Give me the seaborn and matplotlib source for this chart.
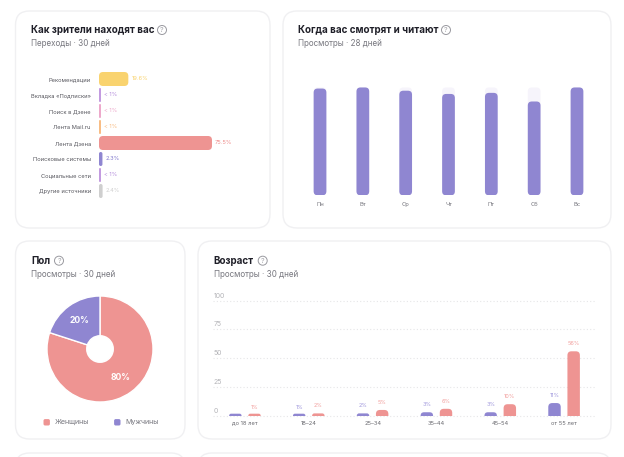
# coding: utf-8
import matplotlib
matplotlib.use('Agg')
from matplotlib import pyplot as plt
from matplotlib.patches import FancyBboxPatch, Circle
from matplotlib.transforms import IdentityTransform
import pandas as pd
import seaborn as sns

# как зрители находят вас
source_names = ['Рекомендации', 'Вкладка «Подписки»', 'Поиск в Дзене', 'Лента Mail.ru',
                'Лента Дзена', 'Поисковые системы', 'Социальные сети', 'Другие источники']
source_values = [19.6, 0.9, 0.9, 0.9, 75.5, 2.3, 0.9, 2.4]
source_labels = ['19.6%', '< 1%', '< 1%', '< 1%', '75.5%', '2.3%', '< 1%', '2.4%']
source_colors = ['#f9d36f', '#c39be0', '#eda9cb', '#f8bd85', '#ee9492', '#8f86d1', '#c39be0', '#cfcfcf']
source_text_colors = ['#f9d36f', '#b58fdc', '#eda9cb', '#f8bd85', '#ee8b8a', '#7f76cc', '#b58fdc', '#cfcfcf']

# когда смотрят
days = ['Пн', 'Вт', 'Ср', 'Чт', 'Пт', 'Сб', 'Вс']
day_values = [99, 100, 97, 94, 95, 87, 100]
day_max = [100, 100, 100, 100, 100, 100, 100]

# пол
gender_names = ['Женщины', 'Мужчины']
gender_values = [80, 20]

# возраст
age_groups = ['до 18 лет', '18–24', '25–34', '35–44', '45–54', 'от 55 лет']
age_men = [1, 1, 2, 3, 3, 11]
age_women = [1, 2, 5, 6, 10, 56]
age_men_labels = ['', '1%', '2%', '3%', '3%', '11%']
age_women_labels = ['1%', '2%', '5%', '6%', '10%', '56%']
age_ticks = [0, 25, 50, 75, 100]

RED = '#ee9492'
PURPLE = '#8f86d1'
W, H = 624, 457

sns.set_style('white')
plt.rcParams['font.family'] = ['Inter', 'DejaVu Sans']
plt.rcParams['axes.facecolor'] = 'none'

fig = plt.figure(figsize=(W / 100, H / 100), dpi=100)
bg = fig.add_axes([0, 0, 1, 1])
bg.set_xlim(0, W)
bg.set_ylim(H, 0)
bg.axis('off')


def px_axes(x0, y0, x1, y1):
    a = fig.add_axes([x0 / W, 1 - y1 / H, (x1 - x0) / W, (y1 - y0) / H])
    sns.despine(ax=a, left=True, bottom=True)
    return a


def card(x0, y0, x1, y1):
    bg.add_patch(FancyBboxPatch((x0, y0), x1 - x0, y1 - y0, boxstyle='round,pad=0,rounding_size=14',
                                fc='white', ec='#f0f0f2', lw=1))


def head(x, y, title, sub, qx):
    bg.text(x, y, title, fontsize=7.05, fontweight='bold', color='#1f1f28', va='center')
    bg.text(x, y + 14, sub, fontsize=5.8, color='#77777f', va='center')
    bg.add_patch(Circle((qx, y), 4.5, fc='none', ec='#9a9aa0', lw=0.7))
    bg.text(qx, y, '?', fontsize=5, color='#9a9aa0', ha='center', va='center')


# скругляем бары, которые нарисовал seaborn
def round_bars(ax, radius, min_w=0, min_h=0, flat_bottom=False):
    bars = list(ax.patches)
    ax.figure.canvas.draw()
    for bar in bars:
        box = bar.get_window_extent()
        x0, y0 = box.x0, box.y0
        w, h = max(box.width, min_w), max(box.height, min_h)
        r = min(radius, w / 2, h) if flat_bottom else min(radius, w / 2, h / 2)
        if flat_bottom:
            y0 -= r
            h += r
        new = FancyBboxPatch((x0, y0), w, h, boxstyle='round,pad=0,rounding_size=%f' % r,
                             fc=bar.get_facecolor(), ec='none', transform=IdentityTransform(),
                             zorder=bar.get_zorder())
        ax.add_artist(new)
        bar.remove()


card(15.5, 11, 270, 228)
card(283, 11, 611, 228)
card(15.5, 241, 185, 439)
card(198, 241, 611, 439)
card(15.5, 453, 185, 520)
card(198, 453, 611, 520)

head(31, 30, 'Как зрители находят вас', 'Переходы · 30 дней', 162)
head(298.5, 30, 'Когда вас смотрят и читают', 'Просмотры · 28 дней', 446)
head(31, 260.7, 'Пол', 'Просмотры · 30 дней', 59)
head(213.5, 260.7, 'Возраст', 'Просмотры · 30 дней', 262.7)

# первый график
ax1 = px_axes(99, 71, 250, 199)
sns.barplot(x=source_values, y=source_names, hue=source_names, palette=source_colors,
            legend=False, width=0.875, saturation=1, ax=ax1, orient='h')
ax1.set_xlim(0, 100.9)
ax1.set_ylim(7.5, -0.5)
ax1.set(xlabel='', ylabel='', xticks=[])
ax1.tick_params(axis='y', length=0, pad=5.8, labelsize=4.1, labelcolor='#55555c')
round_bars(ax1, 4, min_w=2)
for i in range(len(source_values)):
    ax1.annotate(source_labels[i], (max(source_values[i], 1.3), i), xytext=(3, 0), textcoords='offset pixels',
                 fontsize=4.1, color=source_text_colors[i], va='center', annotation_clip=False)

# второй график
ax2 = px_axes(298.6, 81, 598.4, 195.3)
sns.barplot(x=days, y=day_max, color='#f6f4fb', saturation=1, width=0.297, ax=ax2)
sns.barplot(x=days, y=day_values, color=PURPLE, saturation=1, width=0.297, ax=ax2)
ax2.set_ylim(0, 106)
ax2.set(xlabel='', ylabel='', yticks=[])
ax2.tick_params(axis='x', length=0, pad=5, labelsize=4.2, labelcolor='#77777f')
round_bars(ax2, 4)

# круговая
ax3 = px_axes(47, 296, 153, 402)
wedges, texts, autotexts = ax3.pie(gender_values, colors=[RED, PURPLE], startangle=90, counterclock=False,
                                   radius=1, autopct='%d%%', pctdistance=0.67,
                                   wedgeprops={'width': 0.75},
                                   textprops={'fontsize': 6.2, 'fontweight': 'bold', 'color': 'white'})
ax3.set_xlim(-1, 1)
ax3.set_ylim(-1, 1)
for mx, name, color in zip([46.7, 117.3], gender_names, [RED, PURPLE]):
    bg.add_patch(FancyBboxPatch((mx - 3.2, 419.1), 6.4, 6.4, boxstyle='round,pad=0,rounding_size=1.6', fc=color, ec='none'))
    bg.text(mx + 7.7, 422.3, name, fontsize=5.1, color='#77777f', va='center')

# возраст
ax4 = px_axes(213, 300.7, 596, 415.7)
age_df = pd.DataFrame({'group': age_groups * 2,
                       'value': age_men + age_women,
                       'sex': ['m'] * len(age_men) + ['f'] * len(age_women)})
sns.barplot(data=age_df, x='group', y='value', hue='sex', palette=[PURPLE, RED], legend=False,
            width=0.6, gap=0.35, saturation=1, ax=ax4, zorder=3)
ax4.set_xlim(-0.5, 5.5)
ax4.set_ylim(0, 100)
ax4.set(xlabel='', ylabel='')
ax4.set_yticks([])
ax4.tick_params(axis='x', length=0, pad=3.5, labelsize=4.1, labelcolor='#66666c')
for t in age_ticks:
    ax4.axhline(t, color='#e6e6e8', ls=(0, (1, 2)), lw=0.8, clip_on=False, zorder=1)
    ax4.annotate(str(t), (0, t), xycoords=('axes fraction', 'data'), xytext=(1, 2), textcoords='offset pixels',
                 fontsize=5.0, color='#b4b4b8', va='bottom', annotation_clip=False)
for i in range(len(age_groups)):
    ax4.annotate(age_men_labels[i], (i - 0.15, age_men[i]), xytext=(0, 5), textcoords='offset pixels',
                 fontsize=4.0, color='#9f97dc', ha='center', va='bottom')
    ax4.annotate(age_women_labels[i], (i + 0.15, age_women[i]), xytext=(0, 5), textcoords='offset pixels',
                 fontsize=4.0, color='#f2a09e', ha='center', va='bottom')
round_bars(ax4, 4, min_h=2, flat_bottom=True)

fig.savefig('out.png', dpi=100)
